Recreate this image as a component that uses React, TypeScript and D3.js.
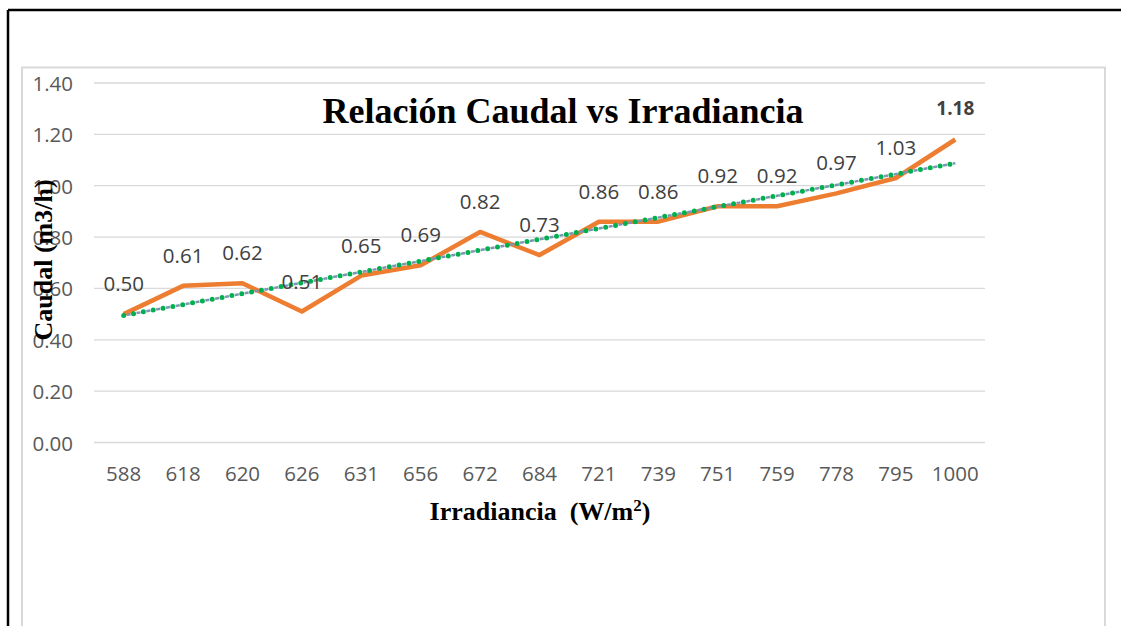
import React from 'react'
import * as d3 from 'd3'

const categories = ['588', '618', '620', '626', '631', '656', '672', '684', '721', '739', '751', '759', '778', '795', '1000']
const caudal = [0.50, 0.61, 0.62, 0.51, 0.65, 0.69, 0.82, 0.73, 0.86, 0.86, 0.92, 0.92, 0.97, 1.03, 1.18]
const yTicks = [0, 0.2, 0.4, 0.6, 0.8, 1.0, 1.2, 1.4]

const W = 1121
const H = 626
const labelFont = '"Open Sans", "Noto Sans", sans-serif'
const serif = '"Liberation Serif", "Times New Roman", serif'

// linear trend over the category index (what excel draws on a line chart)
const trend = () => {
  const n = caudal.length
  const mx = (n - 1) / 2
  const my = d3.mean(caudal) as number
  let sxy = 0
  let sxx = 0
  caudal.forEach((v, i) => {
    sxy += (i - mx) * (v - my)
    sxx += (i - mx) * (i - mx)
  })
  const slope = sxy / sxx
  const b = my - slope * mx
  return [b, b + slope * (n - 1)]
}

export default function App() {
  const x = d3.scaleBand().domain(categories).range([94, 985])
  const y = d3.scaleLinear().domain([0, 1.4]).range([442.5, 83])
  const cx = (c: string) => (x(c) as number) + x.bandwidth() / 2

  const line = d3.line<number>()
    .x((_, i) => cx(categories[i]))
    .y((d) => y(d))

  const [t0, t1] = trend()
  const tx0 = cx(categories[0])
  const tx1 = cx(categories[categories.length - 1])

  return (
    <svg width={W} height={H} style={{position: 'absolute', left: 0, top: 0, background: '#fff'}}>
      {/* outer black frame */}
      <line x1={8} y1={10} x2={W} y2={10} stroke="#000" strokeWidth={2.5} />
      <line x1={8} y1={10} x2={8} y2={H} stroke="#000" strokeWidth={2.5} />
      {/* chart area */}
      <rect x={22} y={67.5} width={1083} height={620} fill="#fff" stroke="#d9d9d9" strokeWidth={2} />

      {yTicks.map((t) => (
        <g key={t}>
          <line x1={94} x2={985} y1={y(t)} y2={y(t)} stroke="#d9d9d9" strokeWidth={1.3} />
          <text x={73} y={y(t)} textAnchor="end" dominantBaseline="central"
            fontFamily={labelFont} fontSize={20.5} fill="#595959">{t.toFixed(2)}</text>
        </g>
      ))}

      {categories.map((c) => (
        <text key={c} x={cx(c)} y={473} textAnchor="middle" dominantBaseline="central"
          fontFamily={labelFont} fontSize={20.5} fill="#595959">{c}</text>
      ))}

      <text x={563} y={123} textAnchor="middle" fontFamily={serif} fontWeight="bold"
        fontSize={36} fill="#000">Relación Caudal vs Irradiancia</text>

      <text x={540} y={520} textAnchor="middle" fontFamily={serif} fontWeight="bold"
        fontSize={26} fill="#000" style={{whiteSpace: 'pre'}}>
        Irradiancia  (W/m<tspan dy={-9} fontSize={17}>2</tspan><tspan dy={9}>)</tspan>
      </text>

      <text transform="translate(52,260) rotate(-90)" textAnchor="middle" fontFamily={serif}
        fontWeight="bold" fontSize={26} fill="#000">Caudal (m3/h)</text>

      <path d={line(caudal) as string} fill="none" stroke="#ED7D31" strokeWidth={4.5}
        strokeLinejoin="round" />

      <line x1={tx0} y1={y(t0)} x2={tx1} y2={y(t1)} stroke="#7f93b5" strokeWidth={2.5}
        strokeDasharray="4 6" strokeDashoffset={-3} />
      <line x1={tx0} y1={y(t0)} x2={tx1} y2={y(t1)} stroke="#00b050" strokeWidth={5}
        strokeDasharray="0 10" strokeLinecap="round" />

      {caudal.map((v, i) => {
        const last = i === caudal.length - 1
        return (
          <text key={i} x={cx(categories[i])} y={y(v) - 31} textAnchor="middle" dominantBaseline="central"
            fontFamily={labelFont} fontSize={last ? 19 : 20.5} fontWeight={last ? 'bold' : 'normal'}
            fill="#404040">{v.toFixed(2)}</text>
        )
      })}
    </svg>
  )
}
